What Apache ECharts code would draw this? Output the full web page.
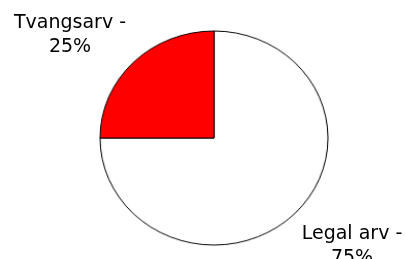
<!DOCTYPE html>
<html>
<head>
<meta charset="utf-8">
<script src="https://cdn.jsdelivr.net/npm/echarts@6/dist/echarts.min.js"></script>
<style>
  html, body { margin: 0; padding: 0; background: #fff; }
  #wrap { position: relative; width: 405px; height: 259px; overflow: hidden; }
  #pie, #labels { position: absolute; left: 0; top: 0; width: 405px; height: 259px; }
  /* 原图的饼是略扁的椭圆 */
  #pie { transform-origin: 214px 138px; transform: scale(1.036, 0.973); }
</style>
</head>
<body>
<div id="wrap">
  <div id="pie"></div>
  <div id="labels"></div>
</div>
<script>
// 分类和数值
const categories = ['Legal arv', 'Tvangsarv']
const values = [75, 25]
const sliceColors = ['#ffffff', '#ff0000']

// 标签位置（按数据索引）
const labelPos = [
  { x: 352, y: 246 },
  { x: 70, y: 35 }
]

// 饼图本体
const pieChart = echarts.init(document.getElementById('pie'))
pieChart.setOption({
  animation: false,
  series: [{
    type: 'pie',
    center: [214, 138],
    radius: 110,
    startAngle: 90,
    clockwise: true,
    data: categories.map((name, i) => ({
      name: name,
      value: values[i],
      itemStyle: { color: sliceColors[i] }
    })),
    itemStyle: {
      borderColor: '#000',
      borderWidth: 1
    },
    label: { show: false },
    labelLine: { show: false },
    emphasis: { disabled: true }
  }]
})

// 标签层（不缩放，避免文字变形）
const labelChart = echarts.init(document.getElementById('labels'))
labelChart.setOption({
  animation: false,
  series: [{
    type: 'pie',
    center: [214, 138],
    radius: 110,
    startAngle: 90,
    clockwise: true,
    silent: true,
    data: categories.map((name, i) => ({ name: name, value: values[i] })),
    itemStyle: { color: 'rgba(0,0,0,0)', borderWidth: 0 },
    label: {
      show: true,
      position: 'outside',
      formatter: '{b} -\n{c}%',
      fontFamily: 'DejaVu Sans',
      fontSize: 19,
      lineHeight: 24.5,
      color: '#000',
      align: 'center',
      overflow: 'none'
    },
    labelLine: { show: false },
    labelLayout: function (params) {
      const p = labelPos[params.dataIndex]
      return { x: p.x, y: p.y, align: 'center', verticalAlign: 'middle' }
    },
    emphasis: { disabled: true }
  }]
})
</script>
</body>
</html>
